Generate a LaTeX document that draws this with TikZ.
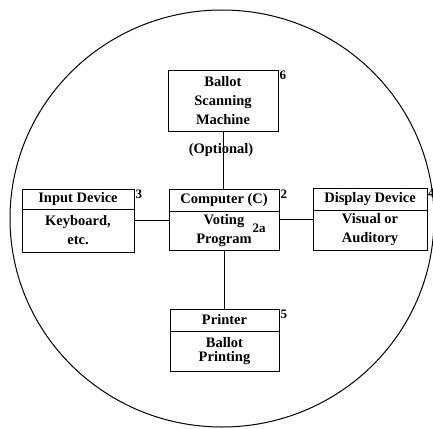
\documentclass[tikz,border=0pt]{standalone}
\usepackage{fontspec}
\setmainfont{Liberation Serif}
\usetikzlibrary{positioning}
\begin{document}
\begin{tikzpicture}[x=1pt,y=-1pt,font=\fontsize{14.5}{19}\selectfont\bfseries,
    unit/.style={draw,line width=1pt,inner sep=0pt},
    txt/.style={align=center,inner sep=0pt},
    tag/.style={anchor=north west,inner sep=1pt,font=\fontsize{13}{14}\selectfont\bfseries}]
  \useasboundingbox (0,0) rectangle (433,428);
  \draw[line width=1pt] (222,218.5) ellipse [x radius=212pt, y radius=208.5pt];
  % boxes
  \node[unit,minimum width=110pt,minimum height=61pt] (scan) at (223,100.5) {};
  \node[unit,minimum width=110pt,minimum height=61pt] (comp) at (224,219.5) {};
  \node[unit,minimum width=112pt,minimum height=63pt] (input) at (78,220.5) {};
  \node[unit,minimum width=114pt,minimum height=62pt] (disp) at (370,219) {};
  \node[unit,minimum width=109pt,minimum height=62pt] (prn) at (224.5,340) {};
  % header rules
  \draw[line width=1pt] ([yshift=-23pt]comp.north west) -- ([yshift=-23pt]comp.north east);
  \draw[line width=1pt] ([yshift=-21pt]input.north west) -- ([yshift=-21pt]input.north east);
  \draw[line width=1pt] ([yshift=-23pt]disp.north west) -- ([yshift=-23pt]disp.north east);
  \draw[line width=1pt] ([yshift=-23pt]prn.north west) -- ([yshift=-23pt]prn.north east);
  % texts
  \node[txt] (scantext) at (scan.center) {Ballot\\Scanning\\Machine};
  \node[txt] (comphead) at ([yshift=-11.5pt]comp.north) {Computer (C)};
  \node[txt] (compbody) at ([yshift=-42pt]comp.north) {Voting\\Program};
  \node[txt] (inhead) at ([yshift=-10.5pt]input.north) {Input Device};
  \node[txt] (inbody) at ([yshift=-42pt]input.north) {Keyboard,\\etc.};
  \node[txt] (disphead) at ([yshift=-11.5pt]disp.north) {Display Device};
  \node[txt] (dispbody) at ([yshift=-42.5pt]disp.north) {Visual or\\Auditory};
  \node[txt] (prnhead) at ([yshift=-11.5pt]prn.north) {Printer};
  \node[txt,font=\fontsize{14.5}{14}\selectfont\bfseries] (prnbody) at ([yshift=-43pt]prn.north) {Ballot\\Printing};
  \node[txt] (opt) at (221,150) {(Optional)};
  \node[txt,font=\fontsize{13}{14}\selectfont\bfseries] (prog) at (259,228) {2a};
  % numbers
  \node[tag] (n6) at (scan.north east) {6};
  \node[tag] (n2) at (comp.north east) {2};
  \node[tag] (n3) at (input.north east) {3};
  \node[tag] (n4) at ([xshift=-0.5pt]disp.north east) {4};
  \node[tag] (n5) at (prn.north east) {5};
  % links
  \draw[line width=1pt] (scan.south) -- (scan.south |- comp.north);
  \draw[line width=1pt] (input.east) -- (input.east -| comp.west);
  \draw[line width=1pt] (comp.east) -- (comp.east -| disp.west);
  \draw[line width=1pt] (prn.north |- comp.south) -- (prn.north);
\end{tikzpicture}
\end{document}
